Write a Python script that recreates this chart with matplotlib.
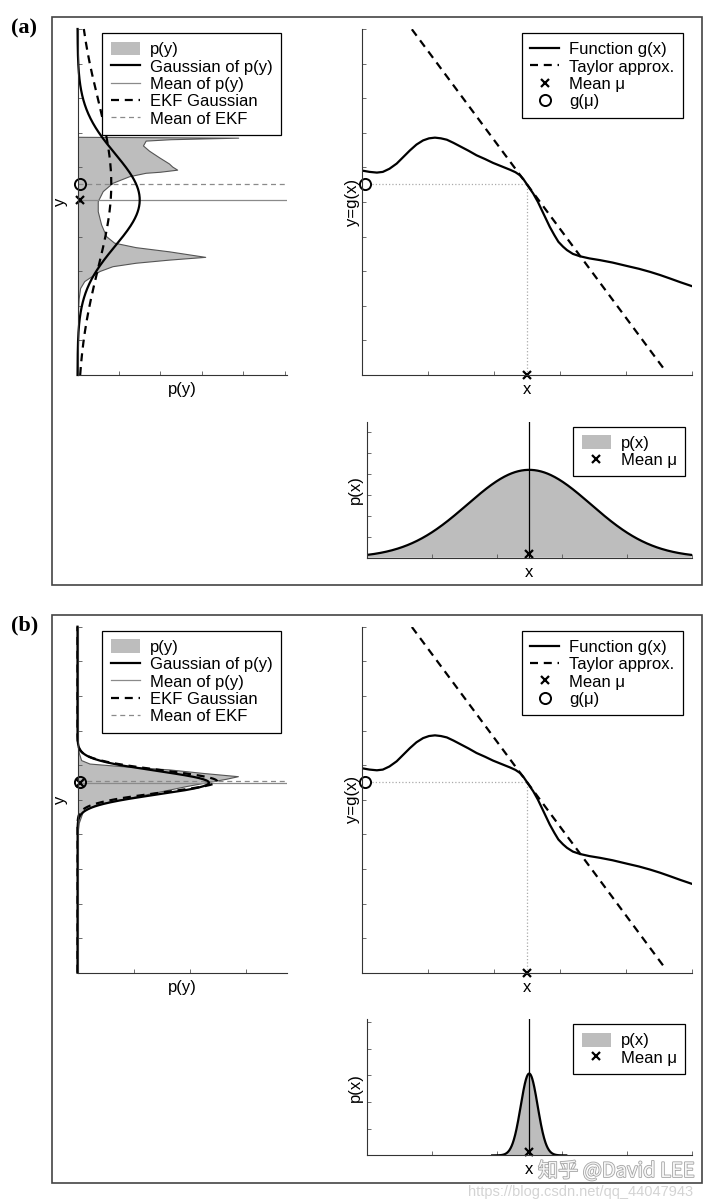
import numpy as np
import matplotlib
matplotlib.use('Agg')
import matplotlib.pyplot as plt
from matplotlib.patches import Rectangle, Patch
from matplotlib.lines import Line2D
import matplotlib.patheffects as pe

plt.rcParams['font.family'] = ['Liberation Sans', 'DejaVu Sans']

# ---------------- data ----------------
# nonlinear function g(x) (traced)
g_x = [0.0, 0.12, 0.23, 0.32, 0.42, 0.53, 0.63, 0.73, 0.83, 0.93, 1.02, 1.11, 1.20,
       1.29, 1.39, 1.49, 1.62, 1.74, 1.87, 1.99, 2.12, 2.25, 2.33, 2.40, 2.45, 2.50,
       2.55, 2.60, 2.67, 2.73, 2.79, 2.85, 2.92, 2.98, 3.05, 3.11, 3.20, 3.31, 3.45,
       3.61, 3.80, 4.02, 4.20, 4.37, 4.52, 4.67, 4.83, 5.0]
g_y = [5.91, 5.87, 5.85, 5.87, 5.96, 6.11, 6.30, 6.49, 6.66, 6.78, 6.84, 6.86, 6.84,
       6.80, 6.71, 6.61, 6.48, 6.35, 6.24, 6.13, 6.03, 5.93, 5.86, 5.77, 5.66, 5.52,
       5.38, 5.24, 5.00, 4.76, 4.52, 4.28, 4.04, 3.85, 3.71, 3.61, 3.50, 3.43, 3.37,
       3.32, 3.25, 3.15, 3.07, 2.98, 2.89, 2.79, 2.68, 2.57]
mu = 2.5
g_mu = 5.52
taylor_slope = -2.57
taylor_x_range = [0.76, 4.61]

# panel (a): wide input distribution
sigma_x_a = 0.95
pya_y = [6.87, 6.845, 6.80, 6.76, 6.62, 6.47, 6.28, 6.10, 6.01, 5.92, 5.86, 5.83,
         5.73, 5.54, 5.30, 5.01, 4.72, 4.34, 4.00, 3.81, 3.68, 3.56, 3.40, 3.36,
         3.32, 3.23, 3.13, 2.99, 2.84, 2.70, 2.50, 2.20, 1.60, 1.00, 0.40]
pya_d = [0.0, 0.777, 0.45, 0.331, 0.318, 0.347, 0.395, 0.443, 0.459, 0.483, 0.40, 0.331,
         0.251, 0.171, 0.124, 0.100, 0.100, 0.116, 0.140, 0.179, 0.283, 0.443, 0.618, 0.53,
         0.443, 0.283, 0.171, 0.108, 0.070, 0.035, 0.015, 0.008, 0.003, 0.001, 0.0]
gauss_a_mean, gauss_a_sigma = 5.06, 1.33
ekf_a_mean, ekf_a_sigma = 5.52, 2.45

# panel (b): narrow input distribution
sigma_x_b = 0.13
pxb_range = [1.93, 3.07]
pyb_y = [6.77, 6.34, 6.13, 6.03, 5.96, 5.86, 5.76, 5.665, 5.59, 5.52, 5.38, 5.18,
         4.99, 4.85, 4.65, 4.32, 3.90]
pyb_d = [0.0, 0.016, 0.037, 0.112, 0.38, 0.826, 1.12, 1.436, 1.33, 1.21, 0.975, 0.677,
         0.38, 0.17, 0.052, 0.016, 0.0]
gauss_b_mean, gauss_b_sigma = 5.49, 0.34
ekf_b_mean, ekf_b_sigma = 5.53, 0.32

# axis tick positions
left_xticks_a = [0, 0.2, 0.4, 0.6, 0.8, 1.0]
left_xticks_b = [0, 0.5, 1.0, 1.5]
y_ticks = list(range(0, 11))
x_ticks = [0, 1, 2, 3, 4, 5]
px_yticks_a = [0, 0.1, 0.2, 0.3, 0.4, 0.5, 0.6]
px_yticks_b = [0, 1, 2, 3, 4, 5]

# ---------------- styling ----------------
W, H = 720, 1204
GRAY_FILL = '#bdbdbd'
THICK = 1.6
DASH = (3.6, 2.6)
FS = 12


def box(l, t, r, b):
    return [l / W, 1 - b / H, (r - l) / W, (b - t) / H]


def gauss(t, m, s):
    t = np.asarray(t)
    return np.exp(-0.5 * ((t - m) / s) ** 2) / (s * np.sqrt(2 * np.pi))


def style(ax):
    for s in ['top', 'right']:
        ax.spines[s].set_visible(False)
    for s in ['left', 'bottom']:
        ax.spines[s].set_color('#333333')
        ax.spines[s].set_linewidth(0.8)
    ax.tick_params(direction='in', length=2.8, width=0.6, colors='#555555',
                   labelleft=False, labelbottom=False)


def legend(ax, handles, labels, l, t, dy):
    leg = ax.legend(handles, labels, loc='upper left',
                    bbox_to_anchor=(l / W, 1 - (t + dy) / H),
                    bbox_transform=fig.transFigure, borderaxespad=0,
                    fontsize=FS, frameon=True, fancybox=False, framealpha=1,
                    edgecolor='black', handlelength=1.75, handletextpad=0.6,
                    handleheight=0.9, labelspacing=0.1, borderpad=0.5,
                    numpoints=1)
    leg.get_frame().set_linewidth(0.9)
    return leg


fig = plt.figure(figsize=(W / 100, H / 100), dpi=100)
fig.patch.set_facecolor('white')

panels = [
    dict(dy=0.0, tag='(a)', py_y=pya_y, py_d=pya_d, gm=gauss_a_mean, gs=gauss_a_sigma,
         em=ekf_a_mean, es=ekf_a_sigma, lxlim=1.01, lxt=left_xticks_a,
         sx=sigma_x_a, prange=[0, 5], pylim=0.65, pyt=px_yticks_a, mx=0.011),
    dict(dy=597.7, tag='(b)', py_y=pyb_y, py_d=pyb_d, gm=gauss_b_mean, gs=gauss_b_sigma,
         em=ekf_b_mean, es=ekf_b_sigma, lxlim=1.87, lxt=left_xticks_b,
         sx=sigma_x_b, prange=pxb_range, pylim=5.1, pyt=px_yticks_b, mx=0.022),
]

for P in panels:
    dy = P['dy']
    # outer frame
    fig.patches.append(Rectangle((51.7 / W, 1 - (585 + dy) / H), 650 / W, (585 - 17.3) / H,
                                 transform=fig.transFigure, fill=False,
                                 ec='#444444', lw=1.2))
    fig.text(11 / W, 1 - (28 + dy) / H, P['tag'], ha='left', va='center',
             fontsize=16, fontweight='bold', family='Liberation Serif')

    # ---------- left: p(y) ----------
    axL = fig.add_axes(box(77.5, 29 + dy, 287, 375 + dy))
    style(axL)
    yy = np.linspace(0, 10, 600)
    axL.fill_betweenx(P['py_y'], 0, P['py_d'], facecolor=GRAY_FILL, edgecolor='none')
    axL.plot(P['py_d'], P['py_y'], color='#555555', lw=0.8)
    axL.axhline(P['gm'], color='#8a8a8a', lw=0.9)
    axL.axhline(P['em'], color='#8a8a8a', lw=0.9, dashes=(4, 3))
    axL.plot(gauss(yy, P['gm'], P['gs']), yy, color='black', lw=THICK, clip_on=False)
    axL.plot(gauss(yy, P['em'], P['es']), yy, color='black', lw=THICK, dashes=DASH,
             clip_on=False)
    axL.plot([P['mx']], [g_mu], 'o', ms=8, mfc='none', mec='black', mew=1.4, clip_on=False)
    axL.plot([P['mx']], [P['gm']], 'x', ms=6, mec='black', mew=1.6, clip_on=False)
    axL.set_xlim(0, P['lxlim'])
    axL.set_ylim(0, 10)
    axL.set_xticks(P['lxt'])
    axL.set_yticks(y_ticks)
    axL.set_xlabel('p(y)', fontsize=FS, labelpad=5)
    axL.set_ylabel('y', fontsize=FS, labelpad=7)
    hL = [Patch(facecolor=GRAY_FILL, edgecolor='none'),
          Line2D([], [], color='black', lw=THICK),
          Line2D([], [], color='#8a8a8a', lw=0.9),
          Line2D([], [], color='black', lw=THICK, dashes=DASH),
          Line2D([], [], color='#8a8a8a', lw=0.9, dashes=(4, 3))]
    legend(axL, hL, ['p(y)', 'Gaussian of p(y)', 'Mean of p(y)', 'EKF Gaussian',
                     'Mean of EKF'], 102.3, 33.3, dy)

    # ---------- right top: g(x) ----------
    axG = fig.add_axes(box(361.7, 29 + dy, 691.7, 375 + dy))
    style(axG)
    axG.plot([0, mu], [g_mu, g_mu], color='#aaaaaa', lw=0.9, ls=':')
    axG.plot([mu, mu], [0, g_mu], color='#aaaaaa', lw=0.9, ls=':')
    tx = np.array(taylor_x_range)
    axG.plot(tx, g_mu + taylor_slope * (tx - mu), color='black', lw=THICK, dashes=DASH)
    axG.plot(g_x, g_y, color='black', lw=THICK)
    axG.plot([mu], [0], 'x', ms=6, mec='black', mew=1.6, clip_on=False)
    axG.plot([0.05], [g_mu], 'o', ms=8, mfc='white', mec='black', mew=1.4, clip_on=False)
    axG.set_xlim(0, 5)
    axG.set_ylim(0, 10)
    axG.set_xticks(x_ticks)
    axG.set_yticks(y_ticks)
    axG.set_xlabel('x', fontsize=FS, labelpad=5)
    axG.set_ylabel('y=g(x)', fontsize=FS, labelpad=1)
    hG = [Line2D([], [], color='black', lw=THICK),
          Line2D([], [], color='black', lw=THICK, dashes=DASH),
          Line2D([], [], ls='none', marker='x', ms=6, mec='black', mew=1.6),
          Line2D([], [], ls='none', marker='o', ms=8, mfc='none', mec='black', mew=1.4)]
    legend(axG, hG, ['Function g(x)', 'Taylor approx.', 'Mean \u03bc', 'g(\u03bc)'],
           521.7, 33.3, dy)

    # ---------- right bottom: p(x) ----------
    axP = fig.add_axes(box(366.7, 421.7 + dy, 691.7, 557.7 + dy))
    style(axP)
    xx = np.linspace(P['prange'][0], P['prange'][1], 400)
    axP.fill_between(xx, 0, gauss(xx, mu, P['sx']), facecolor=GRAY_FILL, edgecolor='none')
    axP.plot(xx, gauss(xx, mu, P['sx']), color='black', lw=THICK)
    axP.axvline(mu, color='black', lw=0.9)
    axP.plot([mu], [P['pylim'] * 0.025], 'x', ms=6, mec='black', mew=1.6, clip_on=False)
    axP.set_xlim(0, 5)
    axP.set_ylim(0, P['pylim'])
    axP.set_xticks(x_ticks)
    axP.set_yticks(P['pyt'])
    axP.set_xlabel('x', fontsize=FS, labelpad=5)
    axP.set_ylabel('p(x)', fontsize=FS, labelpad=3)
    hP = [Patch(facecolor=GRAY_FILL, edgecolor='none'),
          Line2D([], [], ls='none', marker='x', ms=6, mec='black', mew=1.6)]
    legend(axP, hP, ['p(x)', 'Mean \u03bc'], 573.3, 426.7, dy)

# watermark
fig.text(538 / W, 1 - 1177 / H, '知乎 @David LEE', ha='left', va='baseline', fontsize=14.5,
         color='white', alpha=0.9, family=['Noto Sans CJK SC', 'DejaVu Sans'],
         path_effects=[pe.withStroke(linewidth=1.2, foreground='#9a9a9a')])
fig.text(468 / W, 1 - 1196 / H, 'https://blog.csdn.net/qq_44047943', ha='left',
         va='baseline', fontsize=10.5, color='#cfcfcf', alpha=0.9)

fig.savefig('out.png', dpi=100, facecolor='white')
